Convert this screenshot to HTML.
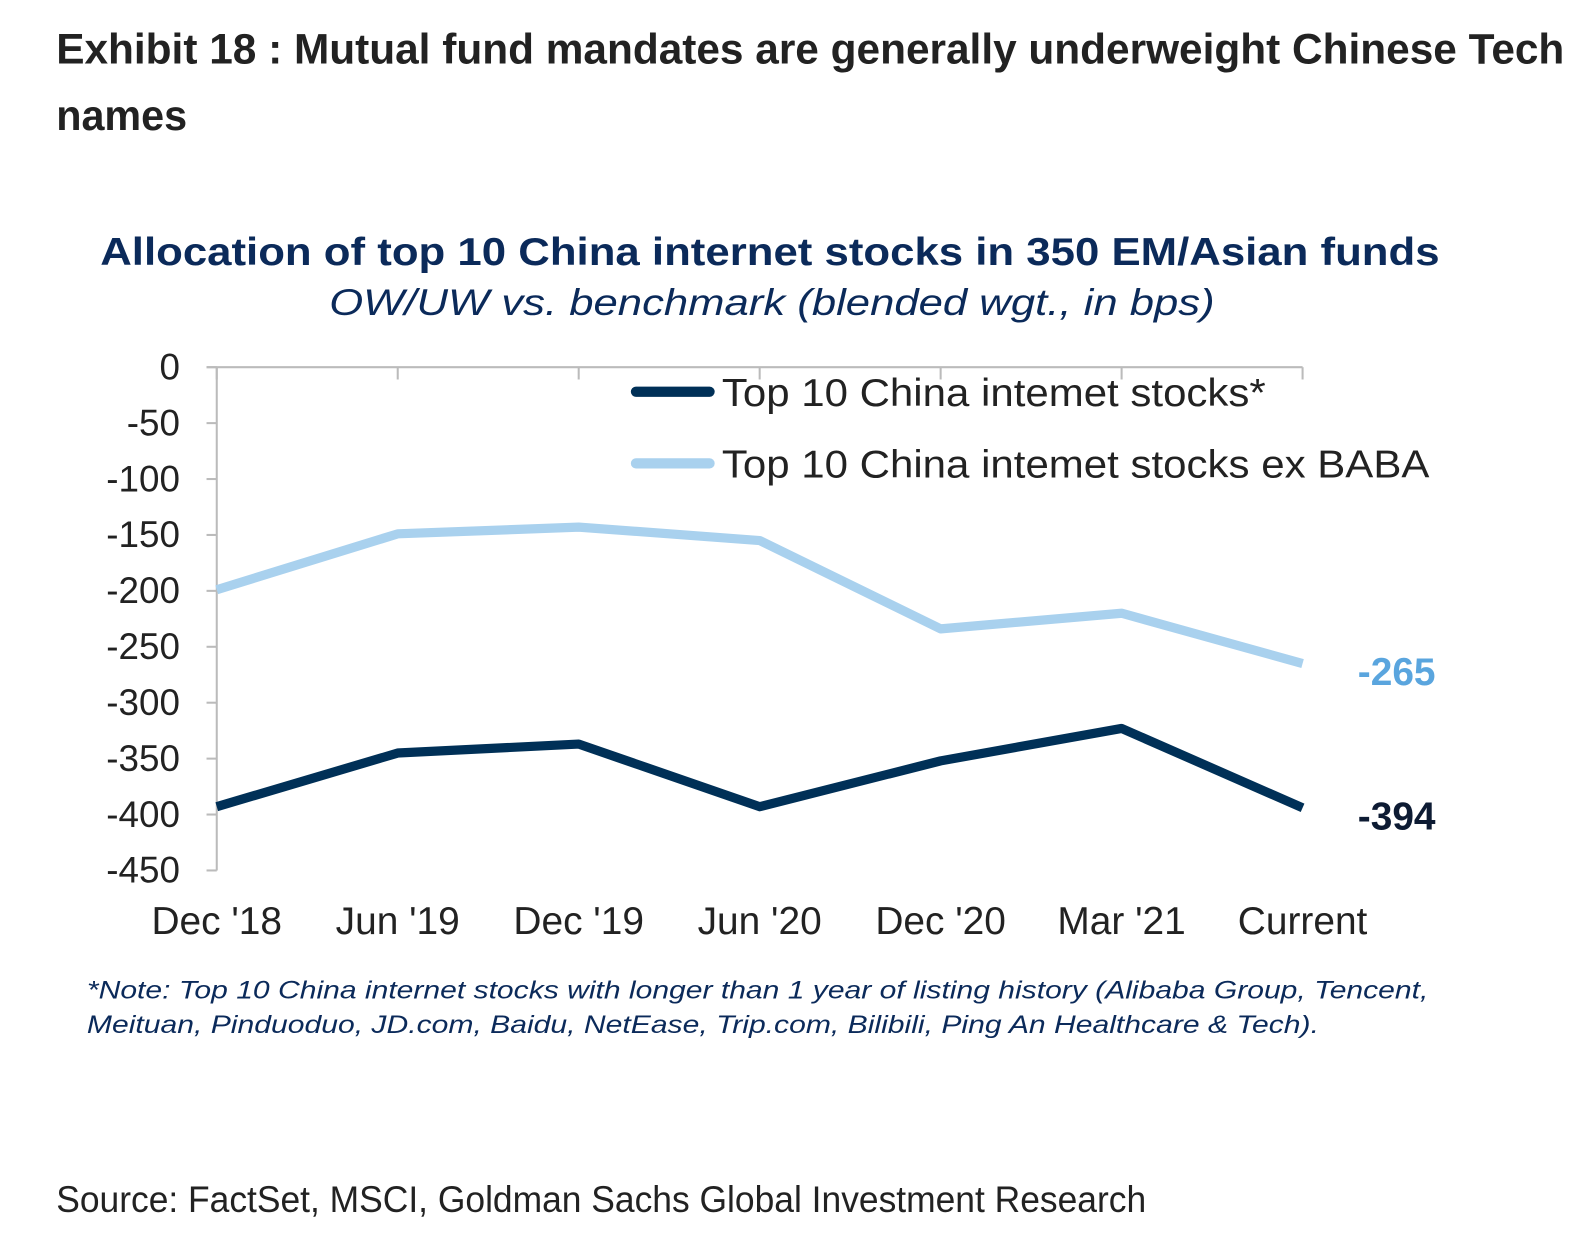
<!DOCTYPE html>
<html><head><meta charset="utf-8"><style>
html,body{margin:0;padding:0;background:#fff;}
svg{display:block;}
</style></head><body>
<svg width="1595" height="1253" viewBox="0 0 1560 1225" preserveAspectRatio="none" xmlns="http://www.w3.org/2000/svg">
<text x="55" y="62" font-family="Liberation Sans, sans-serif" font-weight="bold" font-size="42" fill="#222" textLength="1475" lengthAdjust="spacingAndGlyphs">Exhibit 18 : Mutual fund mandates are generally underweight Chinese Tech</text>
<text x="55" y="127" font-family="Liberation Sans, sans-serif" font-weight="bold" font-size="42" fill="#222" textLength="128" lengthAdjust="spacingAndGlyphs">names</text>
<text x="98" y="259" font-family="Liberation Sans, sans-serif" font-weight="bold" font-size="38" fill="#0b2a5a" textLength="1310" lengthAdjust="spacingAndGlyphs">Allocation  of top 10 China internet stocks in 350 EM/Asian funds</text>
<text x="322" y="308" font-family="Liberation Sans, sans-serif" font-style="italic" font-size="36" fill="#0b2a5a" textLength="866" lengthAdjust="spacingAndGlyphs">OW/UW vs. benchmark (blended wgt.,  in bps)</text>
<g id="plot"></g>
<text x="85" y="976" font-family="Liberation Sans, sans-serif" font-style="italic" font-size="24" fill="#0b2a5a" textLength="1312" lengthAdjust="spacingAndGlyphs">*Note: Top 10 China internet stocks with longer than 1 year of listing history (Alibaba Group, Tencent,</text>
<text x="85" y="1010" font-family="Liberation Sans, sans-serif" font-style="italic" font-size="24" fill="#0b2a5a" textLength="1205" lengthAdjust="spacingAndGlyphs">Meituan, Pinduoduo, JD.com, Baidu, NetEase, Trip.com, Bilibili, Ping An Healthcare &amp; Tech).</text>
<text x="55" y="1185" font-family="Liberation Sans, sans-serif" font-size="36" fill="#222" textLength="1066" lengthAdjust="spacingAndGlyphs">Source: FactSet, MSCI, Goldman Sachs Global Investment Research</text>
</svg>
<script>
const categories=["Dec '18","Jun '19","Dec '19","Jun '20","Dec '20","Mar '21","Current"];
const seriesTop10=[-393,-345,-337,-393,-352,-323,-394];
const seriesExBaba=[-199,-149,-143,-155,-234,-220,-265];
const yTicks=[0,-50,-100,-150,-200,-250,-300,-350,-400,-450];
const seriesNames=["Top 10 China intemet stocks*","Top 10 China intemet stocks ex BABA"];

const NS="http://www.w3.org/2000/svg";
const g=document.getElementById('plot');
const x0=212,x1=1274,yTop=359,yBot=851;
const xs=i=>x0+i*(x1-x0)/(categories.length-1);
const ys=v=>yTop+(0-v)/450*(yBot-yTop);
function mk(tag,attrs,txt){const e=document.createElementNS(NS,tag);for(const k in attrs)e.setAttribute(k,attrs[k]);if(txt!==undefined)e.textContent=txt;g.appendChild(e);return e;}
const F="Liberation Sans, sans-serif";
let ax=mk('line',{x1:x0,y1:yTop,x2:x0,y2:yBot,stroke:'#bbb','stroke-width':2});


let ax2=mk('line',{x1:x0-10,y1:yTop,x2:x1,y2:yTop,stroke:'#bbb','stroke-width':2});


yTicks.forEach(v=>{
  const t=mk('line',{x1:x0-10,y1:ys(v),x2:x0,y2:ys(v),stroke:'#bbb','stroke-width':2});
  
  
  const l=mk('text',{x:176,y:ys(v)+12,'text-anchor':'end','font-family':F,'font-size':36,fill:'#222'},String(v));
  
  
});
categories.forEach((c,i)=>{
  const t=mk('line',{x1:xs(i),y1:yTop,x2:xs(i),y2:yTop+12,stroke:'#bbb','stroke-width':2});
  
  
  const l=mk('text',{x:xs(i),y:913,'text-anchor':'middle','font-family':F,'font-size':38,fill:'#222'},c);
  
  
});
function line(data,color,name){
  const p=mk('polyline',{points:data.map((v,i)=>xs(i)+','+ys(v)).join(' '),fill:'none',stroke:color,'stroke-width':9,'stroke-linejoin':'round'});
  
  
}
line(seriesExBaba,'#a9d1ee','series-ex-baba-line');
line(seriesTop10,'#003057','series-top10-line');
const e1=mk('text',{x:1328,y:ys(seriesExBaba[6])+21,'font-family':F,'font-weight':'bold','font-size':38,fill:'#5aa5de'},String(seriesExBaba[6]));


const e2=mk('text',{x:1328,y:ys(seriesTop10[6])+21,'font-family':F,'font-weight':'bold','font-size':38,fill:'#0d1b33'},String(seriesTop10[6]));


const legW=[532,692];
[['#003057',383],['#a9d1ee',453]].forEach((d,i)=>{
  const s=mk('line',{x1:622,y1:d[1],x2:694,y2:d[1],stroke:d[0],'stroke-width':10,'stroke-linecap':'round'});
  
  
  const t=mk('text',{x:706,y:d[1]+14,'font-family':F,'font-size':38,fill:'#222',textLength:legW[i],lengthAdjust:'spacingAndGlyphs'},seriesNames[i]);
  
  
});
</script>
</body></html>
